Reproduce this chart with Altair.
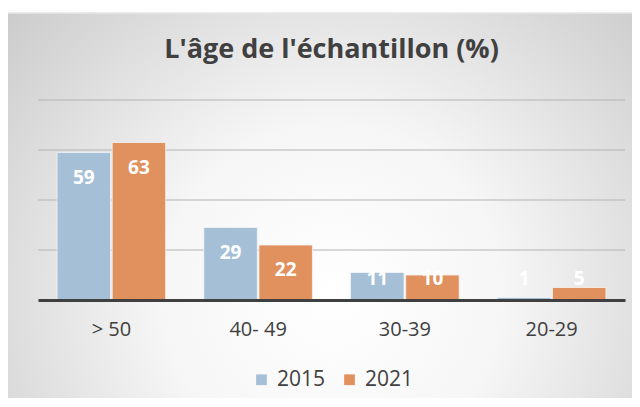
import altair as alt
import pandas as pd

categories = ["> 50", "40- 49", "30-39", "20-29"]
years = ["2015", "2021"]
values_2015 = [59, 29, 11, 1]
values_2021 = [63, 22, 10, 5]
grid_values = [20, 40, 60, 80]

rows = []
for c, a, b in zip(categories, values_2015, values_2021):
    rows.append({"cat": c, "year": "2015", "value": a})
    rows.append({"cat": c, "year": "2021", "value": b})
df = pd.DataFrame(rows)

FONT = "Open Sans"
TXT = "#404040"

bg = alt.Chart(pd.DataFrame({"a": [0]})).mark_rect(
    color={
        "gradient": "radial",
        "x1": 0.5, "y1": 0.62, "r1": 0,
        "x2": 0.5, "y2": 0.62, "r2": 0.75,
        "stops": [
            {"offset": 0, "color": "#ffffff"},
            {"offset": 0.35, "color": "#f6f6f6"},
            {"offset": 1, "color": "#c2c2c2"},
        ],
    },
    stroke="#e6e6e6", strokeWidth=1.5,
).encode(
    x=alt.value(-31), x2=alt.value(620),
    y=alt.value(-87), y2=alt.value(320),
)

yscale = alt.Scale(domain=[0, 80])

grid = alt.Chart(pd.DataFrame({"g": grid_values})).mark_rule(
    color="#b4b4b4", strokeWidth=1.2
).encode(y=alt.Y("g:Q", scale=yscale, axis=None))

xenc = alt.X("cat:N", sort=categories,
             scale=alt.Scale(paddingInner=0.26, paddingOuter=0.13),
             axis=alt.Axis(title=None, labelAngle=0, ticks=False, zindex=1,
                           domainColor=TXT, domainWidth=3,
                           labelFont=FONT, labelFontSize=20, labelColor=TXT,
                           labelPadding=19))
yenc = alt.Y("value:Q", scale=yscale, axis=None)

bars = alt.Chart(df).mark_bar(stroke="#f4f4f4", strokeWidth=1, strokeOpacity=0.8).encode(
    x=xenc,
    xOffset=alt.XOffset("year:N", sort=years, scale=alt.Scale(paddingInner=0.03)),
    y=yenc,
    color=alt.Color("year:N", sort=years,
                    scale=alt.Scale(domain=years, range=["#a5bfd7", "#e0915e"]),
                    legend=alt.Legend(title=None, orient="none", direction="horizontal",
                                      legendX=213, legendY=269,
                                      symbolType="square", symbolSize=115,
                                      symbolStrokeWidth=0,
                                      labelFont=FONT, labelFontSize=21, labelColor=TXT,
                                      columnPadding=13, labelOffset=5)),
)

labels = alt.Chart(df).transform_calculate(
    ly="max(datum.value - 10, 8.4)"
).mark_text(font=FONT, fontSize=19, fontWeight="bold", color="white",
            baseline="middle").encode(
    x=alt.X("cat:N", sort=categories),
    xOffset=alt.XOffset("year:N", sort=years),
    y=alt.Y("ly:Q", scale=yscale, axis=None),
    text="value:Q",
)

chart = alt.layer(bg, grid, bars, labels).properties(
    width=587, height=200,
    title=alt.Title("L'âge de l'échantillon (%)", font=FONT,
                    fontSize=27, fontWeight="bold", color=TXT, anchor="middle",
                    offset=-52),
    autosize=alt.AutoSizeParams(type="none"),
    padding={"left": 30, "top": 92, "right": 7, "bottom": 98},
).configure_view(strokeWidth=0).configure(background="white")

chart.save("out.html", embed_options={"renderer": "svg", "actions": False})
